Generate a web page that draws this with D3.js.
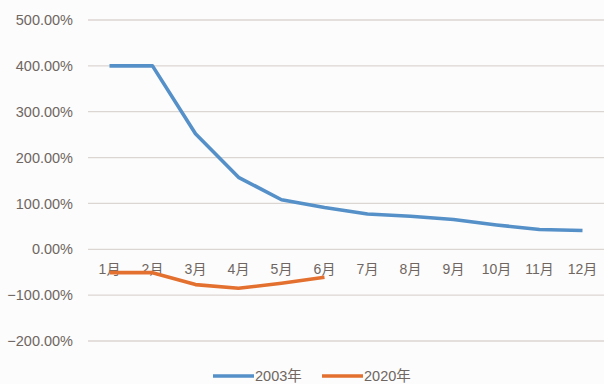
<!DOCTYPE html>
<html>
<head>
<meta charset="utf-8">
<script src="https://cdn.jsdelivr.net/npm/d3@7"></script>
<style>
  html, body { margin: 0; padding: 0; background: #fcfcfc; }
  svg { display: block; }
  text { font-family: "Liberation Sans", "Noto Sans CJK SC", sans-serif; fill: #6f6661; }
</style>
</head>
<body>
<svg id="chart" width="604" height="384"></svg>
<script>
// Month categories and growth rates (%) for each year
const months = ["1月", "2月", "3月", "4月", "5月", "6月", "7月", "8月", "9月", "10月", "11月", "12月"];
const values2003 = [400, 400, 252, 157, 108, 91, 77, 72, 65, 53, 43, 41];
const values2020 = [-51, -51, -77, -85, -74, -61];
const yTicks = [-200, -100, 0, 100, 200, 300, 400, 500];
const seriesNames = ["2003年", "2020年"];
const seriesColors = ["#5590c8", "#e4702f"];

const svg = d3.select("#chart");
const margin = { left: 88, right: 0, top: 20, bottom: 43 };
const width = 604, height = 384;

const x = d3.scaleBand()
  .domain(months)
  .range([margin.left, width - margin.right]);

const y = d3.scaleLinear()
  .domain([-200, 500])
  .range([341, 20]);

// Horizontal grid lines
svg.append("g")
  .selectAll("line")
  .data(yTicks)
  .join("line")
  .attr("x1", margin.left)
  .attr("x2", width)
  .attr("y1", d => y(d))
  .attr("y2", d => y(d))
  .attr("stroke", "#dcd6d3")
  .attr("stroke-width", 1.3);

// Y axis labels
const yAxis = d3.axisLeft(y)
  .tickValues(yTicks)
  .tickFormat(d => d3.format(".2f")(d) + "%")
  .tickSize(0)
  .tickPadding(15);
const yg = svg.append("g")
  .attr("transform", `translate(${margin.left},0)`)
  .call(yAxis);
yg.select(".domain").remove();
yg.selectAll("text")
  .attr("font-size", 14.5)
  .attr("font-family", "Liberation Sans, sans-serif")
  .attr("fill", "#6f6661");

// Month labels sit just below the zero line
const xAxis = d3.axisBottom(x).tickSize(0).tickPadding(15);
const xg = svg.append("g")
  .attr("transform", `translate(0,${y(0)})`)
  .call(xAxis);
xg.select(".domain").remove();
xg.selectAll("text")
  .attr("font-size", 14)
  .attr("font-family", "Liberation Sans, Noto Sans CJK SC, sans-serif")
  .attr("fill", "#6f6661");

// Lines
const line = d3.line()
  .x((d, i) => x(months[i]) + x.bandwidth() / 2)
  .y(d => y(d));

[values2003, values2020].forEach((vals, k) => {
  svg.append("path")
    .datum(vals)
    .attr("fill", "none")
    .attr("stroke", seriesColors[k])
    .attr("stroke-width", 3.6)
    .attr("stroke-linejoin", "round")
    .attr("d", line);
});

// Legend
const legendItems = [
  { name: seriesNames[0], color: seriesColors[0], x: 213 },
  { name: seriesNames[1], color: seriesColors[1], x: 322 }
];
const lg = svg.append("g");
legendItems.forEach(item => {
  lg.append("line")
    .attr("x1", item.x).attr("x2", item.x + 41)
    .attr("y1", 376).attr("y2", 376)
    .attr("stroke", item.color)
    .attr("stroke-width", 3.6);
  lg.append("text")
    .attr("x", item.x + 42)
    .attr("y", 381)
    .attr("font-size", 14.5)
    .text(item.name);
});
</script>
</body>
</html>
